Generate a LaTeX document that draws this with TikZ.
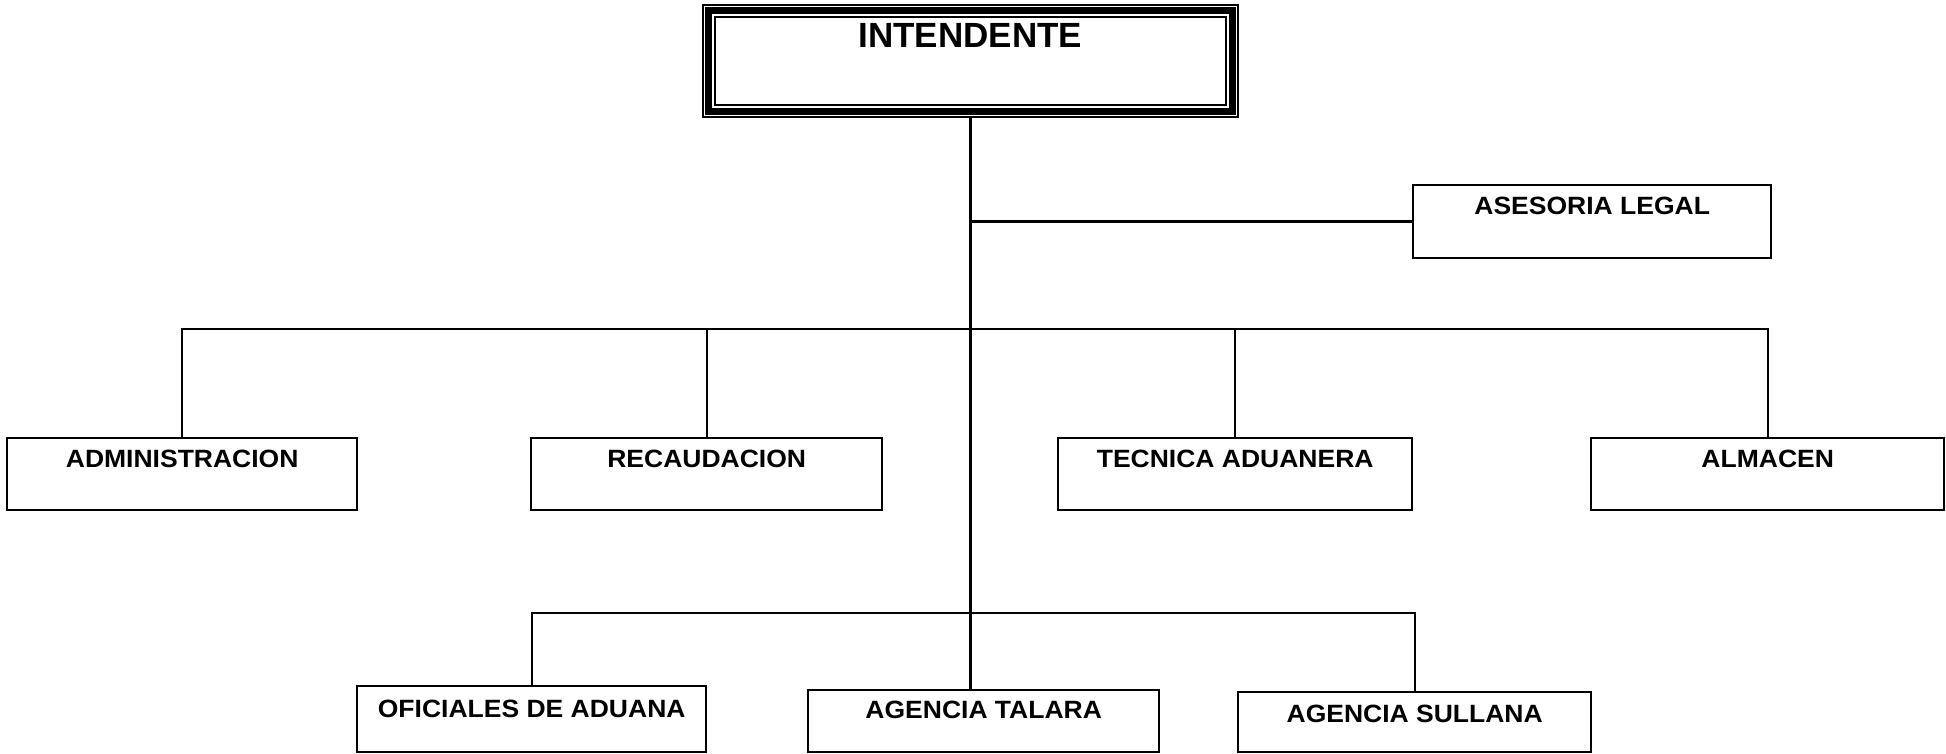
\documentclass[tikz,border=0pt]{standalone}
\usepackage{fontspec}
\newfontfamily\lab[FakeStretch=1.06]{Liberation Sans}
\newfontfamily\topf{Liberation Sans}
\begin{document}
\begin{tikzpicture}[x=1pt,y=-1pt,
  conn/.style={draw, line width=2.4pt},
  box/.style={draw, line width=2.4pt, inner sep=0pt, anchor=north west,
    font=\lab\bfseries\fontsize{25}{30}\selectfont},
  lvltwo/.style={box, text height=29pt, text depth=43pt}
]
\useasboundingbox (0,0) rectangle (1946,754);
\fill[white] (0,0) rectangle (1946,754);

% top box
\node[draw, line width=1.8pt, inner sep=0pt, anchor=north west,
  minimum width=535pt, text height=43pt, text depth=69pt,
  font=\topf\bfseries\fontsize{35}{40}\selectfont] (top) at (702,4) {INTENDENTE};
\draw[line width=7pt] ([shift={(6.5pt,-6.5pt)}]top.north west) rectangle ([shift={(-6.5pt,6.5pt)}]top.south east);
\draw[line width=1.8pt] ([shift={(13pt,-13pt)}]top.north west) rectangle ([shift={(-13pt,13pt)}]top.south east);

% staff
\node[box, minimum width=358pt, text height=29pt, text depth=44pt] (ase) at (1412,184) {ASESORIA LEGAL};

% level two
\node[lvltwo, minimum width=350pt] (adm) at (6,437) {ADMINISTRACION};
\node[lvltwo, minimum width=351pt] (rec) at (530,437) {RECAUDACION};
\node[lvltwo, minimum width=354pt] (tec) at (1057,437) {TECNICA ADUANERA};
\node[lvltwo, minimum width=353pt] (alm) at (1590,437) {ALMACEN};

% level three
\node[box, minimum width=349pt, text height=31pt, text depth=35pt] (ofi) at (356,685) {OFICIALES DE ADUANA};
\node[box, minimum width=351pt, text height=28pt, text depth=34pt] (tal) at (807,689) {AGENCIA TALARA};
\node[box, minimum width=353pt, text height=30pt, text depth=30pt] (sul) at (1237,691) {AGENCIA SULLANA};

\coordinate (busa) at (969,329);
\coordinate (busb) at (969,613);

% connectors
\draw[conn] (top.south) -- (top.south |- tal.north);
\draw[conn] (ase.west) -- (ase.west -| top.south);
\draw[conn] (adm.north) -- (adm.north |- busa) -- (alm.north |- busa) -- (alm.north);
\draw[conn] (rec.north) -- (rec.north |- busa);
\draw[conn] (tec.north) -- (tec.north |- busa);
\draw[conn] (ofi.north) -- (ofi.north |- busb) -- (sul.north |- busb) -- (sul.north);
\end{tikzpicture}
\end{document}
